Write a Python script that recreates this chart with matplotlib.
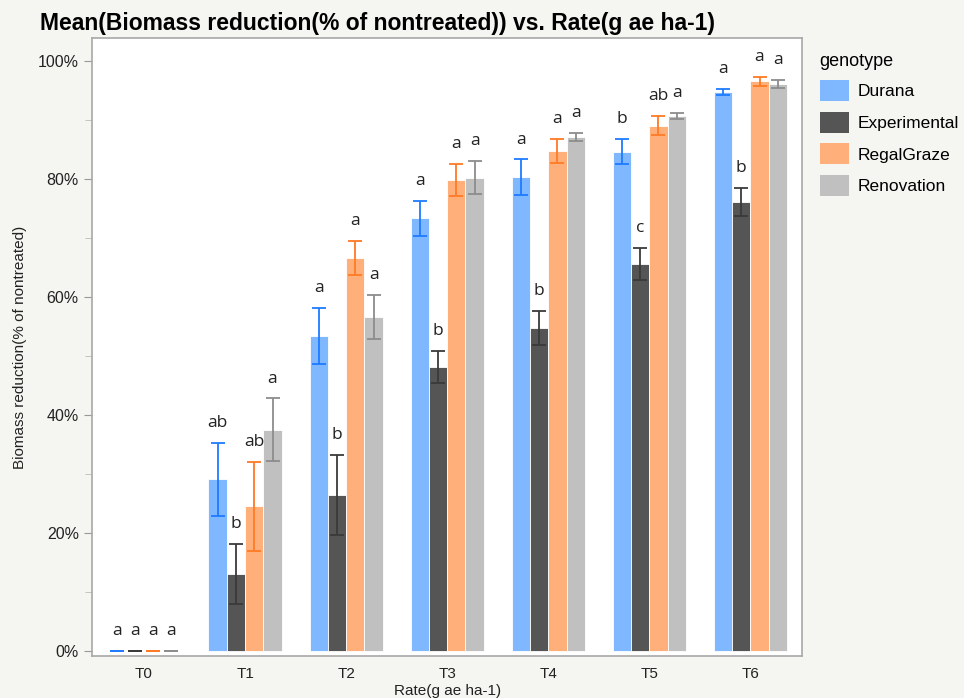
import numpy as np
import matplotlib.pyplot as plt
from matplotlib.patches import Patch
from matplotlib.ticker import MultipleLocator, FuncFormatter

plt.rcParams["font.family"] = ["Liberation Sans", "DejaVu Sans"]

# Data (percent)
rates = ["T0", "T1", "T2", "T3", "T4", "T5", "T6"]
genotypes = ["Durana", "Experimental", "RegalGraze", "Renovation"]

durana = [0, 29.1, 53.4, 73.3, 80.3, 84.6, 94.7]
durana_err = [0, 6.2, 4.7, 3.0, 3.0, 2.1, 0.5]
experimental = [0, 13.0, 26.4, 48.1, 54.7, 65.6, 76.1]
experimental_err = [0, 5.1, 6.8, 2.7, 2.9, 2.7, 2.4]
regalgraze = [0, 24.5, 66.6, 79.8, 84.7, 89.0, 96.5]
regalgraze_err = [0, 7.6, 2.9, 2.7, 2.0, 1.6, 0.8]
renovation = [0, 37.5, 56.6, 80.2, 87.1, 90.7, 96.1]
renovation_err = [0, 5.3, 3.7, 2.8, 0.7, 0.5, 0.7]

letters = {
    "Durana": ["a", "ab", "a", "a", "a", "b", "a"],
    "Experimental": ["a", "b", "b", "b", "b", "c", "b"],
    "RegalGraze": ["a", "ab", "a", "a", "a", "ab", "a"],
    "Renovation": ["a", "a", "a", "a", "a", "a", "a"],
}

means = [durana, experimental, regalgraze, renovation]
errs = [durana_err, experimental_err, regalgraze_err, renovation_err]
bar_colors = ["#7FB8FF", "#555555", "#FFAF7A", "#C0C0C0"]
err_colors = ["#1E7BFF", "#3A3A3A", "#FF7A24", "#8C8C8C"]

bg = "#F5F5F1"
fig = plt.figure(figsize=(9.64, 6.98), dpi=100, facecolor=bg)
ax = fig.add_axes([0.0954, 0.060, 0.737, 0.886])
ax.set_facecolor("white")

x = np.arange(len(rates))
width = 0.181
for i, g in enumerate(genotypes):
    pos = x + (i - 1.5) * width
    ax.bar(pos, means[i], width=width, color=bar_colors[i],
           edgecolor="white", linewidth=0.6, zorder=2)
    ax.errorbar(pos, means[i], yerr=errs[i], fmt="none", ecolor=err_colors[i],
                elinewidth=1.3, capsize=5, capthick=1.3, zorder=3)
    for xp, m, e, lab in zip(pos, means[i], errs[i], letters[g]):
        ax.text(xp, m + e + 2.0, lab, ha="center", va="bottom",
                fontsize=12.5, color="#222222", family="Open Sans")

ax.set_xlim(-0.515, 6.515)
ax.set_ylim(-0.85, 103.9)
ax.set_xticks(x)
ax.set_xticklabels(rates, fontsize=11)
ax.yaxis.set_major_locator(MultipleLocator(20))
ax.yaxis.set_minor_locator(MultipleLocator(10))
ax.yaxis.set_major_formatter(FuncFormatter(lambda v, p: f"{v:.0f}%"))
ax.tick_params(axis="y", labelsize=11.5, color="#999999", length=6, labelcolor="#222222")
ax.tick_params(axis="y", which="minor", color="#bbbbbb", length=5)
ax.tick_params(axis="x", length=0, pad=8, labelcolor="#222222")
for s in ax.spines.values():
    s.set_color("#A8A8A8")
    s.set_linewidth(1.2)

ax.set_xlabel("Rate(g ae ha-1)", fontsize=11, color="#222222", labelpad=2)
ax.set_ylabel("Biomass reduction(% of nontreated)", fontsize=11, color="#222222", labelpad=8)

fig.text(0.042, 0.967, "Mean(Biomass reduction(% of nontreated)) vs. Rate(g ae ha-1)",
         fontsize=16.5, fontweight="bold", ha="left", va="center")

handles = [Patch(facecolor=c, edgecolor="none") for c in bar_colors]
leg = fig.legend(handles, genotypes, title="genotype", loc="upper left",
                 bbox_to_anchor=(0.834, 0.947), frameon=False, fontsize=12.5,
                 title_fontsize=13, handlelength=1.7, handleheight=1.5,
                 labelspacing=0.6, handletextpad=0.5, alignment="left")

fig.savefig("out.png", dpi=100, facecolor=bg)
